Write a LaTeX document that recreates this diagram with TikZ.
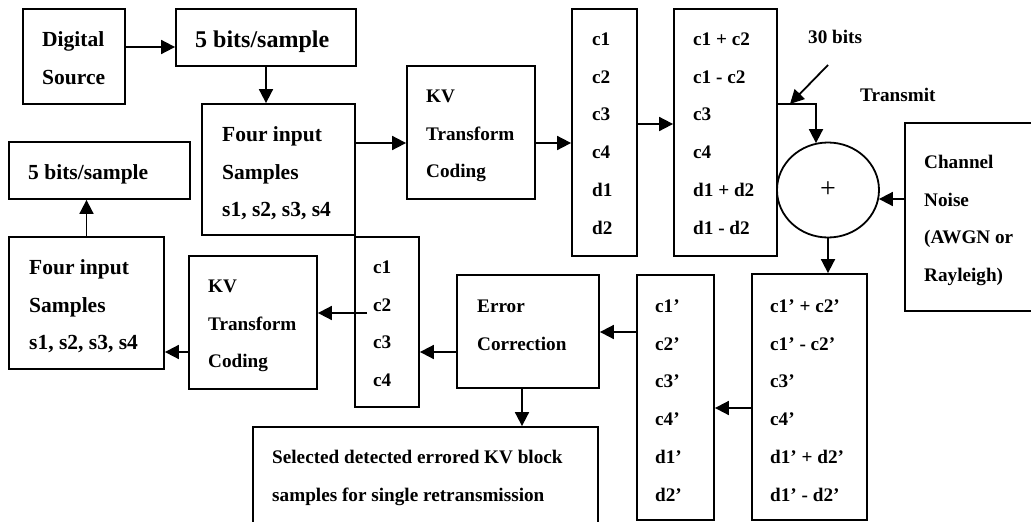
\documentclass[tikz,border=0pt]{standalone}
\usepackage{fontspec}
\setmainfont{Liberation Serif}
\usetikzlibrary{arrows.meta,shapes.geometric,calc}
\newcommand{\fs}{\rule{0pt}{17pt}}
\newcommand{\mybox}[5]{\node[box, minimum width={#4-#2}, minimum height={#5-#3}] (#1) at ({(#2+#4)/2},{(#3+#5)/2}) {};}
\begin{document}
\begin{tikzpicture}[x=1pt,y=-1pt,
  box/.style={draw, line width=1.8pt, inner sep=0pt, rectangle},
  txt/.style={anchor=north west, inner sep=0pt, align=left, font=\fontsize{19.2}{37.8}\selectfont\bfseries},
  big/.style={font=\fontsize{21.5}{37.8}\selectfont\bfseries},
  arr/.style={line width=1.8pt, -{Triangle[length=14pt,width=14pt]}}]
\useasboundingbox (0,0) rectangle (1031,522);
\clip (0,0) rectangle (1031,522);
% boxes
\mybox{ds}{23}{9}{125}{104}
\mybox{topfive}{176}{9}{356}{66}
\mybox{finA}{202}{104}{355}{235}
\mybox{kvA}{407}{66}{535}{199}
\mybox{colA}{572}{9}{637}{256}
\mybox{colB}{674}{9}{777}{256}
\node[draw, line width=1.8pt, ellipse, minimum width=102pt, minimum height=95pt, inner sep=0pt] (sum) at (828,190) {};
\mybox{noise}{905}{123}{1045}{311}
\mybox{colBr}{752}{274}{867}{520}
\mybox{colAr}{637}{275}{714}{520}
\mybox{ec}{457}{275}{599}{388}
\mybox{sel}{253}{427}{598}{530}
\mybox{colC}{355}{237}{419}{407}
\mybox{kvB}{189}{256}{317}{389}
\mybox{finB}{9}{237}{164}{369}
\mybox{botfive}{9}{142}{190}{199}
% texts
\node[txt,big] (dsT) at (42,29) {\fs Digital\\Source};
\node[txt,font=\fontsize{24}{30}\selectfont\bfseries] (topfiveT) at (195,27) {\rule{0pt}{20pt}5 bits/sample};
\node[txt,big] (finAT) at (222,124) {\fs Four input\\Samples\\s1, s2, s3, s4};
\node[txt] (kvAT) at (426,85) {\fs KV\\Transform\\Coding};
\node[txt] (colAT) at (592,28) {\fs c1\\c2\\c3\\c4\\d1\\d2};
\node[txt] (colBT) at (693,28) {\fs c1 + c2\\c1 - c2\\c3\\c4\\d1 + d2\\d1 - d2};
\node[font=\fontsize{28}{28}\selectfont, inner sep=0pt] (plus) at (sum) {+};
\node[txt] (noiseT) at (924,151) {\fs Channel\\Noise\\(AWGN or\\Rayleigh)};
\node[txt] (colBrT) at (770,295) {\fs c1’ + c2’\\c1’ - c2’\\c3’\\c4’\\d1’ + d2’\\d1’ - d2’};
\node[txt] (colArT) at (655,295) {\fs c1’\\c2’\\c3’\\c4’\\d1’\\d2’};
\node[txt] (ecT) at (477,295) {\fs Error\\Correction};
\node[txt] (selT) at (272,446) {\fs Selected detected errored KV block\\samples for single retransmission};
\node[txt] (colCT) at (373,256) {\fs c1\\c2\\c3\\c4};
\node[txt] (kvBT) at (208,275) {\fs KV\\Transform\\Coding};
\node[txt,big] (finBT) at (29,257) {\fs Four input\\Samples\\s1, s2, s3, s4};
\node[txt,big] (botfiveT) at (28,162) {\fs 5 bits/sample};
\node[txt] (bitsT) at (808,26) {\fs 30 bits};
\node[txt] (transT) at (860,84) {\fs Transmit};
% level coordinates
\coordinate (y47) at (0,47);
\coordinate (y143) at (0,143);
\coordinate (y124) at (0,124);
\coordinate (y104) at (0,104);
\coordinate (y199) at (0,199);
\coordinate (y408) at (0,408);
\coordinate (y332) at (0,332);
\coordinate (y352) at (0,352);
\coordinate (y313) at (0,313);
\coordinate (x816) at (816,0);
\coordinate (x522) at (522,0);
\coordinate (pA) at (828,65);
\coordinate (pB) at (790,104);
% connectors
\draw[arr] (ds.east |- y47) -- (topfive.west |- y47);
\draw[arr] (topfive.south) -- (topfive.south |- finA.north);
\draw[arr] (finA.east |- y143) -- (kvA.west |- y143);
\draw[arr] (kvA.east |- y143) -- (colA.west |- y143);
\draw[arr] (colA.east |- y124) -- (colB.west |- y124);
\draw[arr] (colB.east |- y104) -| ($(x816 |- sum.north)+(0,1.5)$);
\draw[arr] (pA) -- (pB);
\draw[arr] (noise.west |- y199) -- ($(sum.east |- y199)+(-1,0)$);
\draw[arr] (sum.south) -- (sum.south |- colBr.north);
\draw[arr] (colBr.west |- y408) -- (colAr.east |- y408);
\draw[arr] (colAr.west |- y332) -- (ec.east |- y332);
\draw[arr] (ec.west |- y352) -- (colC.east |- y352);
\draw[arr] (x522 |- ec.south) -- (x522 |- sel.north);
\draw[arr] ($(colC.west |- y313)+(13,0)$) -- (kvB.east |- y313);
\draw[arr] (kvB.west |- y352) -- (finB.east |- y352);
\draw[arr] (finB.north) -- (finB.north |- botfive.south);
\end{tikzpicture}
\end{document}
